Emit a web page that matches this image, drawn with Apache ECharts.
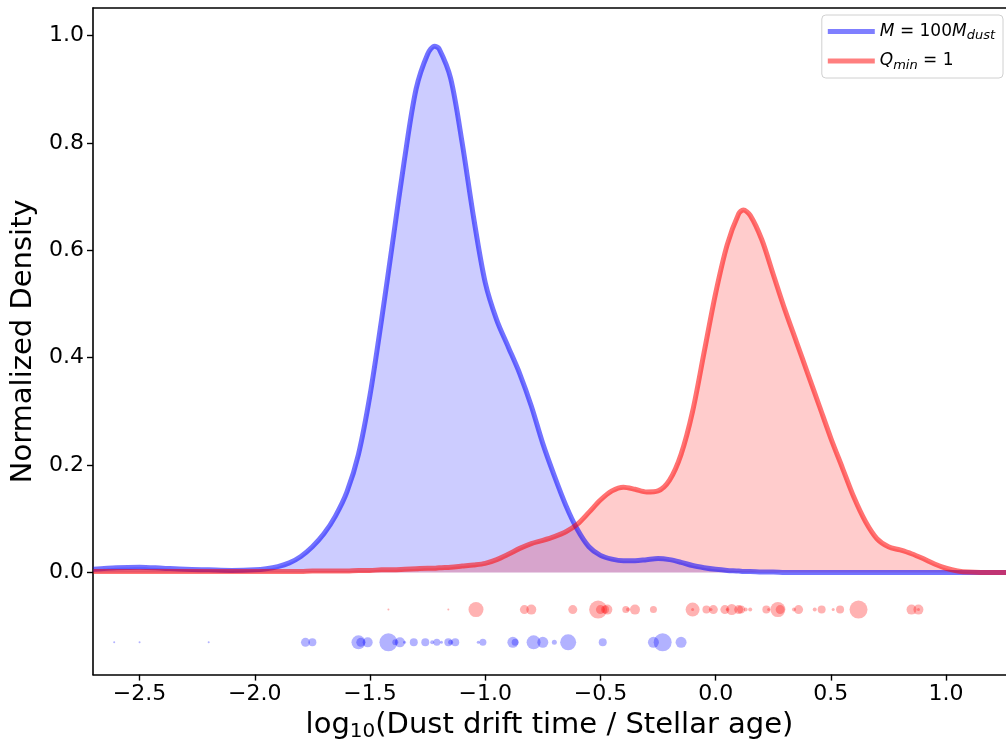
<!DOCTYPE html>
<html>
<head>
<meta charset="utf-8">
<script src="https://cdn.jsdelivr.net/npm/echarts@6/dist/echarts.min.js"></script>
<style>
  html, body { margin: 0; padding: 0; background: #fff; }
  #chart { width: 1006px; height: 747px; }
</style>
</head>
<body>
<div id="chart"></div>
<script>
// KDE sample positions (log10 drift time / age)
const densityX = [-2.70, -2.60, -2.50, -2.40, -2.30, -2.20, -2.10, -2.00, -1.95, -1.90,
  -1.85, -1.80, -1.75, -1.70, -1.65, -1.60, -1.55, -1.50, -1.45, -1.40,
  -1.35, -1.30, -1.25, -1.22, -1.20, -1.15, -1.10, -1.05, -1.00, -0.95,
  -0.90, -0.85, -0.80, -0.75, -0.70, -0.65, -0.60, -0.55, -0.50, -0.45,
  -0.40, -0.35, -0.30, -0.25, -0.20, -0.15, -0.10, -0.05, 0.00, 0.05,
  0.10, 0.12, 0.15, 0.20, 0.25, 0.30, 0.35, 0.40, 0.45, 0.50,
  0.55, 0.60, 0.65, 0.70, 0.75, 0.80, 0.85, 0.90, 0.95, 1.00,
  1.05, 1.10, 1.20, 1.26];

// M = 100 M_dust
const blueDensity = [0.006, 0.009, 0.010, 0.008, 0.006, 0.005, 0.004, 0.005, 0.007, 0.011,
  0.018, 0.030, 0.048, 0.072, 0.105, 0.150, 0.220, 0.330, 0.470, 0.620,
  0.770, 0.900, 0.965, 0.980, 0.975, 0.920, 0.800, 0.660, 0.540, 0.470,
  0.420, 0.370, 0.310, 0.240, 0.180, 0.125, 0.080, 0.048, 0.032, 0.025,
  0.022, 0.022, 0.024, 0.026, 0.024, 0.019, 0.013, 0.009, 0.006, 0.004,
  0.003, 0.002, 0.002, 0.001, 0.001, 0.000, 0.000, 0.000, 0.000, 0.000,
  0.000, 0.000, 0.000, 0.000, 0.000, 0.000, 0.000, 0.000, 0.000, 0.000,
  0.000, 0.000, 0.000, 0.000];

// Q_min = 1
const redDensity = [0.002, 0.002, 0.002, 0.002, 0.002, 0.002, 0.002, 0.002, 0.002, 0.002,
  0.002, 0.002, 0.003, 0.003, 0.003, 0.003, 0.004, 0.004, 0.005, 0.005,
  0.006, 0.007, 0.008, 0.008, 0.009, 0.010, 0.012, 0.014, 0.017, 0.024,
  0.034, 0.045, 0.054, 0.060, 0.067, 0.076, 0.090, 0.112, 0.135, 0.152,
  0.159, 0.155, 0.150, 0.152, 0.172, 0.220, 0.300, 0.410, 0.520, 0.610,
  0.668, 0.675, 0.665, 0.620, 0.555, 0.490, 0.430, 0.370, 0.310, 0.250,
  0.195, 0.140, 0.095, 0.063, 0.048, 0.042, 0.035, 0.026, 0.016, 0.008,
  0.003, 0.001, 0.000, 0.000];

// rug points: individual objects, weight -> marker diameter
const redRugX = [-1.42, -1.16, -1.04, -0.83, -0.80, -0.62, -0.51, -0.50, -0.48, -0.47,
  -0.39, -0.38, -0.35, -0.27, -0.10, -0.10, -0.04, -0.02, -0.01, 0.04,
  0.05, 0.07, 0.10, 0.11, 0.13, 0.15, 0.22, 0.23, 0.27, 0.28,
  0.34, 0.36, 0.43, 0.46, 0.51, 0.54, 0.62, 0.85, 0.88, 0.88];
const redRugW = [2, 2, 15, 9, 10, 9, 18, 9, 8, 10,
  7, 4, 10, 7, 14, 3, 8, 3, 9, 9,
  3, 11, 9, 8, 4, 4, 8, 3, 15, 9,
  4, 9, 4, 8, 3, 8, 18, 10, 3, 10];
const blueRugX = [-2.61, -2.50, -2.20, -1.78, -1.75, -1.55, -1.54, -1.51, -1.42, -1.39,
  -1.37, -1.35, -1.31, -1.26, -1.23, -1.21, -1.19, -1.16, -1.15, -1.13,
  -1.03, -1.01, -0.88, -0.87, -0.79, -0.75, -0.70, -0.64, -0.49, -0.27,
  -0.23, -0.15];
const blueRugW = [2, 2, 2, 9, 8, 14, 9, 10, 18, 6,
  10, 3, 8, 8, 4, 7, 3, 8, 5, 8,
  3, 7, 11, 7, 14, 11, 5, 16, 8, 11,
  18, 11];
const redRugLevel = -0.069;
const blueRugLevel = -0.130;

const xTicks = [-2.5, -2.0, -1.5, -1.0, -0.5, 0.0, 0.5, 1.0];
const yTicks = [0.0, 0.2, 0.4, 0.6, 0.8, 1.0];

const font = 'DejaVu Sans';
const blueName = 'M = 100M_dust';
const redName = 'Q_min = 1';

function pairs(xs, ys) { return xs.map((x, i) => [x, ys[i]]); }
function rug(xs, ws, level) { return xs.map((x, i) => [x, level, ws[i]]); }

const chart = echarts.init(document.getElementById('chart'), null, { renderer: 'canvas' });

chart.setOption({
  animation: false,
  textStyle: { fontFamily: font },
  grid: { left: 93, right: 0, top: 8, bottom: 72 },
  legend: {
    data: [blueName, redName],
    orient: 'vertical',
    right: 3, top: 15,
    icon: 'rect',
    itemWidth: 47, itemHeight: 5,
    itemGap: 10,
    padding: [8, 8, 6, 6],
    backgroundColor: '#fff',
    borderColor: '#d0d0d0', borderWidth: 1, borderRadius: 4,
    formatter: function (name) {
      if (name === blueName) return '{it|M}{n| = 100}{it|M}{sub|dust}';
      return '{it|Q}{sub|min}{n| = 1}';
    },
    textStyle: {
      fontFamily: font, fontSize: 17, color: '#000',
      rich: {
        it: { fontFamily: font, fontSize: 17, fontStyle: 'italic', color: '#000' },
        n: { fontFamily: font, fontSize: 17, color: '#000' },
        sub: { fontFamily: font, fontSize: 13, fontStyle: 'italic', color: '#000', padding: [9, 0, 0, 0] }
      }
    }
  },
  xAxis: [{
    type: 'value',
    min: -2.702, max: 1.26,
    name: '{t|log}{s|10}{t|(Dust drift time / Stellar age)}',
    nameLocation: 'middle', nameGap: 31,
    nameTextStyle: {
      rich: {
        t: { fontFamily: font, fontSize: 29, color: '#000' },
        s: { fontFamily: font, fontSize: 20, color: '#000', padding: [14, 0, 0, 0] }
      }
    },
    axisLine: { onZero: false, lineStyle: { color: '#000', width: 1.6 } },
    axisTick: { length: 6, lineStyle: { color: '#000', width: 1.4 }, customValues: xTicks },
    axisLabel: {
      customValues: xTicks, fontSize: 22, color: '#000', margin: 9, fontFamily: font,
      formatter: v => (v < 0 ? '\u2212' : '') + Math.abs(v).toFixed(1)
    },
    splitLine: { show: false }
  }, {
    type: 'value', position: 'top',
    min: -2.702, max: 1.26,
    axisLine: { onZero: false, lineStyle: { color: '#000', width: 1.6 } },
    axisTick: { show: false }, axisLabel: { show: false }, splitLine: { show: false }
  }],
  yAxis: {
    type: 'value',
    min: -0.19, max: 1.051,
    name: 'Normalized Density',
    nameLocation: 'middle', nameGap: 52,
    nameTextStyle: { fontFamily: font, fontSize: 29, color: '#000' },
    axisLine: { onZero: false, lineStyle: { color: '#000', width: 1.6 } },
    axisTick: { length: 6, lineStyle: { color: '#000', width: 1.4 }, customValues: yTicks },
    axisLabel: {
      customValues: yTicks, fontSize: 22, color: '#000', margin: 9, fontFamily: font,
      formatter: v => v.toFixed(1)
    },
    splitLine: { show: false }
  },
  series: [{
    name: blueName, type: 'line',
    data: pairs(densityX, blueDensity),
    smooth: 0.3, showSymbol: false,
    color: 'rgba(0,0,255,0.5)',
    lineStyle: { color: 'rgba(0,0,255,0.55)', width: 5 },
    areaStyle: { color: 'rgb(0,0,255)', opacity: 0.2, origin: 0 },
    z: 3
  }, {
    name: redName, type: 'line',
    data: pairs(densityX, redDensity),
    smooth: 0.3, showSymbol: false,
    color: 'rgba(255,0,0,0.5)',
    lineStyle: { color: 'rgba(255,0,0,0.55)', width: 5 },
    areaStyle: { color: 'rgb(255,0,0)', opacity: 0.2, origin: 0 },
    z: 3
  }, {
    name: 'red rug', type: 'scatter',
    data: rug(redRugX, redRugW, redRugLevel),
    symbolSize: v => v[2],
    itemStyle: { color: 'rgb(255,0,0)', opacity: 0.3 },
    z: 2
  }, {
    name: 'blue rug', type: 'scatter',
    data: rug(blueRugX, blueRugW, blueRugLevel),
    symbolSize: v => v[2],
    itemStyle: { color: 'rgb(0,0,255)', opacity: 0.3 },
    z: 2
  }]
});
</script>
</body>
</html>
